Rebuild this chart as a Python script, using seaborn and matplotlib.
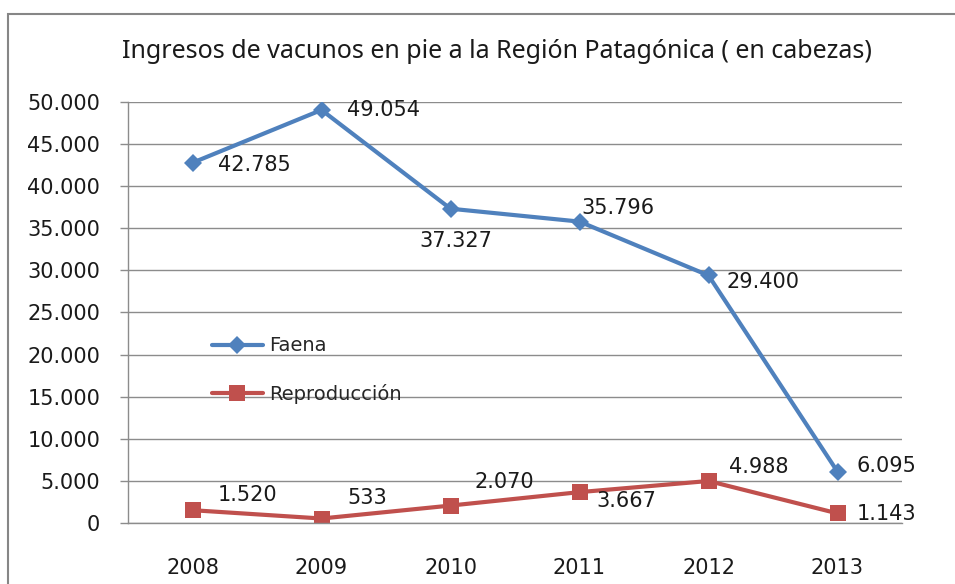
import matplotlib
matplotlib.use("Agg")
import matplotlib.pyplot as plt
import seaborn as sns
import pandas as pd
from matplotlib.patches import Rectangle
from matplotlib.ticker import FuncFormatter, FixedLocator

years = ["2008", "2009", "2010", "2011", "2012", "2013"]
faena = [42785, 49054, 37327, 35796, 29400, 6095]
reproduccion = [1520, 533, 2070, 3667, 4988, 1143]

# label offsets in pixels (dx, dy, ha)
faena_off = [(25, -2, "left"), (25, 0, "left"), (5, -32, "center"),
             (2, 14, "left"), (18, -7, "left"), (19, 6, "left")]
repro_off = [(25, 15, "left"), (26, 21, "left"), (24, 24, "left"),
             (17, -9, "left"), (21, 14, "left"), (19, -1, "left")]

BLUE = "#4F81BD"
RED = "#C0504D"
GRID = "#8c8c8c"

sns.set_style("white")
plt.rcParams["font.family"] = ["DejaVu Sans"]

df = pd.DataFrame({"x": range(len(years)), "Faena": faena, "Reproducción": reproduccion})

fig = plt.figure(figsize=(9.55, 5.84), dpi=100)
ax = fig.add_axes([128 / 955, 61 / 584, 774 / 955, 421 / 584])

sns.lineplot(data=df, x="x", y="Faena", ax=ax, color=BLUE, lw=3, marker="D",
             markersize=9.5, mew=0, label="Faena")
sns.lineplot(data=df, x="x", y="Reproducción", ax=ax, color=RED, lw=3, marker="s",
             markersize=12, mew=0, label="Reproducción")

for vals, offs in ((faena, faena_off), (reproduccion, repro_off)):
    for i, v in enumerate(vals):
        dx, dy, ha = offs[i]
        lab = f"{v:,}".replace(",", ".")
        ax.annotate(lab, (i, v), xytext=(dx, dy), textcoords="offset pixels",
                    ha=ha, va="center", fontsize=15, color="#1a1a1a")

ax.set_xlim(-0.5, len(years) - 0.5)
ax.set_ylim(0, 50000)
ax.set_yticks(range(0, 50001, 5000))
ax.yaxis.set_major_formatter(FuncFormatter(lambda v, p: f"{int(v):,}".replace(",", ".")))
ax.set_xticks(range(len(years)))
ax.set_xticklabels(years)
ax.xaxis.set_minor_locator(FixedLocator([i - 0.5 for i in range(len(years) + 1)]))
ax.tick_params(axis="x", which="major", length=0, pad=25, labelsize=15, labelcolor="#1a1a1a")
ax.tick_params(axis="x", which="minor", length=6, width=1, color=GRID, direction="out")
ax.tick_params(axis="y", length=6, width=1, color=GRID, pad=14, labelsize=15,
               labelcolor="#1a1a1a", left=True)
ax.set_xlabel("")
ax.set_ylabel("")
ax.grid(axis="y", color=GRID, lw=1)
ax.set_axisbelow(True)
for s in ["top", "right"]:
    ax.spines[s].set_visible(False)
for s in ["left", "bottom"]:
    ax.spines[s].set_color(GRID)
    ax.spines[s].set_linewidth(1)

ax.legend(loc="upper left", bbox_to_anchor=(0.1085, 0.443), frameon=False,
          borderaxespad=0, borderpad=0, handlelength=2.6, handletextpad=0.35,
          labelspacing=1.45, fontsize=14)

fig.text(0.52, 1 - 52 / 584, "Ingresos de vacunos en pie a la Región Patagónica ( en cabezas)",
         ha="center", va="center", fontsize=18, family=["Noto Sans"], color="#1a1a1a")

fig.patches.append(Rectangle((8 / 955, -0.1), 1.2, 1.1 - 14 / 584, transform=fig.transFigure,
                             fill=False, edgecolor="#868686", lw=1.5))

fig.savefig("out.png", dpi=100)
